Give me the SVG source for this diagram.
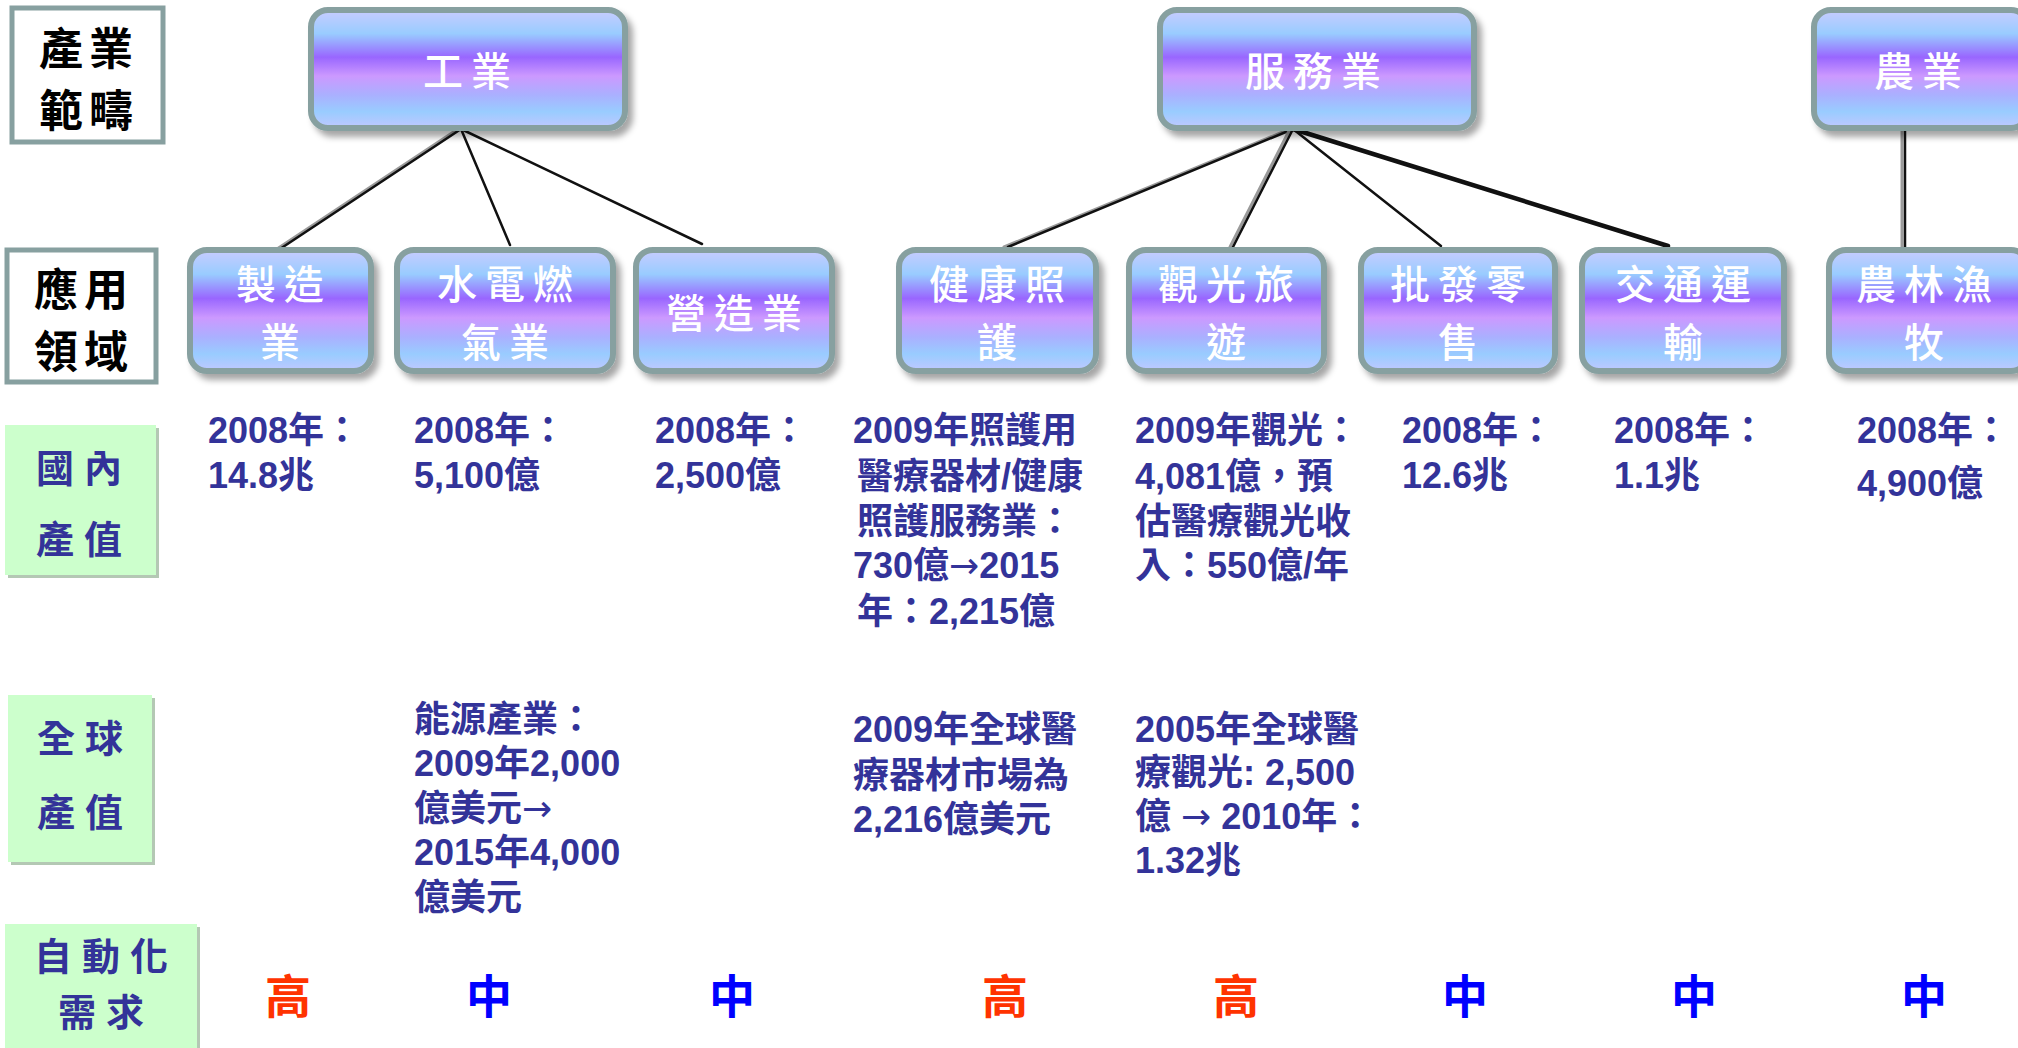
<svg xmlns="http://www.w3.org/2000/svg" width="2018" height="1048" viewBox="0 0 2018 1048">
<defs>
<linearGradient id="ng" x1="0" y1="0" x2="0" y2="1">
<stop offset="0" stop-color="#c8ccff"/>
<stop offset="0.2" stop-color="#99ccff"/>
<stop offset="0.4" stop-color="#9966ff"/>
<stop offset="0.56" stop-color="#cc99ff"/>
<stop offset="0.72" stop-color="#aab0ff"/>
<stop offset="0.86" stop-color="#99ccff"/>
<stop offset="1" stop-color="#c0c8ff"/>
</linearGradient>
<filter id="sh" x="-10%" y="-10%" width="130%" height="140%">
<feDropShadow dx="5" dy="6" stdDeviation="3" flood-color="#000" flood-opacity="0.35"/>
</filter>
<style>
.node rect{fill:url(#ng);stroke:#87a0a0;stroke-width:6;filter:url(#sh)}
.nt{fill:#fff;font-family:"Noto Sans CJK TC","Noto Sans CJK SC",sans-serif;font-size:40px;font-weight:500;letter-spacing:8px;text-anchor:middle}
.lab rect{fill:#fff;stroke:#87a0a0;stroke-width:5}
.lt{fill:#000;font-family:"Noto Sans CJK TC",sans-serif;font-size:44px;font-weight:700;letter-spacing:6px;text-anchor:middle}
.gb{fill:#ccffcc}
.gs{fill:#b4c8b4}
.gt{fill:#333399;font-family:"Noto Sans CJK TC",sans-serif;font-size:38px;font-weight:700;letter-spacing:10px;text-anchor:middle}
.v{fill:#333399;font-family:"Liberation Sans","Noto Sans CJK TC",sans-serif;font-size:36px;font-weight:700}
.ar{font-family:"DejaVu Sans",sans-serif;font-weight:400}
.hi{fill:#ff3300;font-family:"Noto Sans CJK TC",sans-serif;font-size:46px;font-weight:700;text-anchor:middle}
.mid{fill:#0000ff;font-family:"Noto Sans CJK TC",sans-serif;font-size:46px;font-weight:700;text-anchor:middle}
.c line{stroke-linecap:round}
.cs{stroke:#9a9a9a;stroke-width:3}
.cb{stroke:#111;stroke-width:2.5}
</style>
</defs>
<rect width="2018" height="1048" fill="#fff"/>

<g id="connectors" class="c">
<line class="cs" x1="458" y1="129" x2="277" y2="249"/>
<line class="cb" x1="461" y1="129" x2="280" y2="249"/>
<line class="cb" x1="461" y1="129" x2="510" y2="245"/>
<line class="cb" x1="461" y1="129" x2="702" y2="244"/>
<line class="cs" x1="1290" y1="129" x2="1004" y2="247"/>
<line class="cb" x1="1293" y1="129" x2="1008" y2="247"/>
<line class="cs" x1="1290" y1="129" x2="1230" y2="247"/>
<line class="cb" x1="1293" y1="129" x2="1233" y2="247"/>
<line class="cb" x1="1293" y1="129" x2="1441" y2="246"/>
<line class="cb" x1="1293" y1="129" x2="1668" y2="246" style="stroke-width:4.5"/>
<line class="cs" x1="1902" y1="130" x2="1902" y2="248"/>
<line class="cb" x1="1905" y1="130" x2="1905" y2="248"/>
</g>

<g id="label-scope" class="lab"><rect x="12" y="8" width="151" height="134"/><text class="lt" x="89" y="65">產業</text><text class="lt" x="89" y="127">範疇</text></g>
<g id="label-app" class="lab"><rect x="7" y="250" width="149" height="132"/><text class="lt" x="84" y="306">應用</text><text class="lt" x="84" y="368">領域</text></g>
<g id="label-domestic"><rect class="gs" x="8" y="428" width="151" height="150"/><rect class="gb" x="5" y="425" width="151" height="150"/><text class="gt" x="84" y="482">國內</text><text class="gt" x="84" y="553">產值</text></g>
<g id="label-global"><rect class="gs" x="11" y="698" width="144" height="167"/><rect class="gb" x="8" y="695" width="144" height="167"/><text class="gt" x="85" y="752">全球</text><text class="gt" x="85" y="826">產值</text></g>
<g id="label-auto"><rect class="gs" x="8" y="927" width="192" height="124"/><rect class="gb" x="5" y="924" width="192" height="124"/><text class="gt" x="106" y="970">自動化</text><text class="gt" x="106" y="1026">需求</text></g>

<g id="n-industry" class="node"><rect x="311" y="10" width="314" height="118" rx="17"/><text class="nt" x="471" y="86">工業</text></g>
<g id="n-service" class="node"><rect x="1160" y="10" width="314" height="118" rx="17"/><text class="nt" x="1317" y="86">服務業</text></g>
<g id="n-agri" class="node"><rect x="1814" y="10" width="214" height="118" rx="17"/><text class="nt" x="1922" y="86">農業</text></g>

<g id="n-manu" class="node"><rect x="190" y="250" width="181" height="121" rx="17"/><text class="nt" x="284" y="299">製造</text><text class="nt" x="284" y="357">業</text></g>
<g id="n-utility" class="node"><rect x="397" y="250" width="216" height="121" rx="17"/><text class="nt" x="509" y="299">水電燃</text><text class="nt" x="509" y="357">氣業</text></g>
<g id="n-constr" class="node"><rect x="636" y="250" width="196" height="121" rx="17"/><text class="nt" x="738" y="328">營造業</text></g>
<g id="n-health" class="node"><rect x="899" y="250" width="197" height="121" rx="17"/><text class="nt" x="1001" y="299">健康照</text><text class="nt" x="1001" y="357">護</text></g>
<g id="n-tour" class="node"><rect x="1129" y="250" width="195" height="121" rx="17"/><text class="nt" x="1230" y="299">觀光旅</text><text class="nt" x="1230" y="357">遊</text></g>
<g id="n-retail" class="node"><rect x="1361" y="250" width="194" height="121" rx="17"/><text class="nt" x="1462" y="299">批發零</text><text class="nt" x="1462" y="357">售</text></g>
<g id="n-trans" class="node"><rect x="1582" y="250" width="202" height="121" rx="17"/><text class="nt" x="1687" y="299">交通運</text><text class="nt" x="1687" y="357">輸</text></g>
<g id="n-farm" class="node"><rect x="1829" y="250" width="199" height="121" rx="17"/><text class="nt" x="1928" y="299">農林漁</text><text class="nt" x="1928" y="357">牧</text></g>

<g id="domestic-values">
<text class="v" x="208" y="443">2008年：</text><text class="v" x="208" y="488">14.8兆</text>
<text class="v" x="414" y="443">2008年：</text><text class="v" x="414" y="488">5,100億</text>
<text class="v" x="655" y="443">2008年：</text><text class="v" x="655" y="488">2,500億</text>
<text class="v" x="853" y="443">2009年照護用</text><text class="v" x="857" y="489">醫療器材/健康</text><text class="v" x="857" y="534">照護服務業：</text><text class="v" x="853" y="578">730億<tspan class="ar">→</tspan>2015</text><text class="v" x="857" y="624">年：2,215億</text>
<text class="v" x="1135" y="443">2009年觀光：</text><text class="v" x="1135" y="489">4,081億，預</text><text class="v" x="1135" y="534">估醫療觀光收</text><text class="v" x="1135" y="578">入：550億/年</text>
<text class="v" x="1402" y="443">2008年：</text><text class="v" x="1402" y="488">12.6兆</text>
<text class="v" x="1614" y="443">2008年：</text><text class="v" x="1614" y="488">1.1兆</text>
<text class="v" x="1857" y="443">2008年：</text><text class="v" x="1857" y="496">4,900億</text>
</g>

<g id="global-values">
<text class="v" x="414" y="732">能源產業：</text><text class="v" x="414" y="776">2009年2,000</text><text class="v" x="414" y="821">億美元<tspan class="ar">→</tspan></text><text class="v" x="414" y="865">2015年4,000</text><text class="v" x="414" y="910">億美元</text>
<text class="v" x="853" y="742">2009年全球醫</text><text class="v" x="853" y="788">療器材市場為</text><text class="v" x="853" y="832">2,216億美元</text>
<text class="v" x="1135" y="742">2005年全球醫</text><text class="v" x="1135" y="785">療觀光: 2,500</text><text class="v" x="1135" y="829">億 <tspan class="ar">→</tspan> 2010年：</text><text class="v" x="1135" y="873">1.32兆</text>
</g>

<g id="automation">
<text class="hi" x="288" y="1013">高</text>
<text class="mid" x="489" y="1013">中</text>
<text class="mid" x="732" y="1013">中</text>
<text class="hi" x="1005" y="1013">高</text>
<text class="hi" x="1236" y="1013">高</text>
<text class="mid" x="1465" y="1013">中</text>
<text class="mid" x="1694" y="1013">中</text>
<text class="mid" x="1924" y="1013">中</text>
</g>
</svg>
